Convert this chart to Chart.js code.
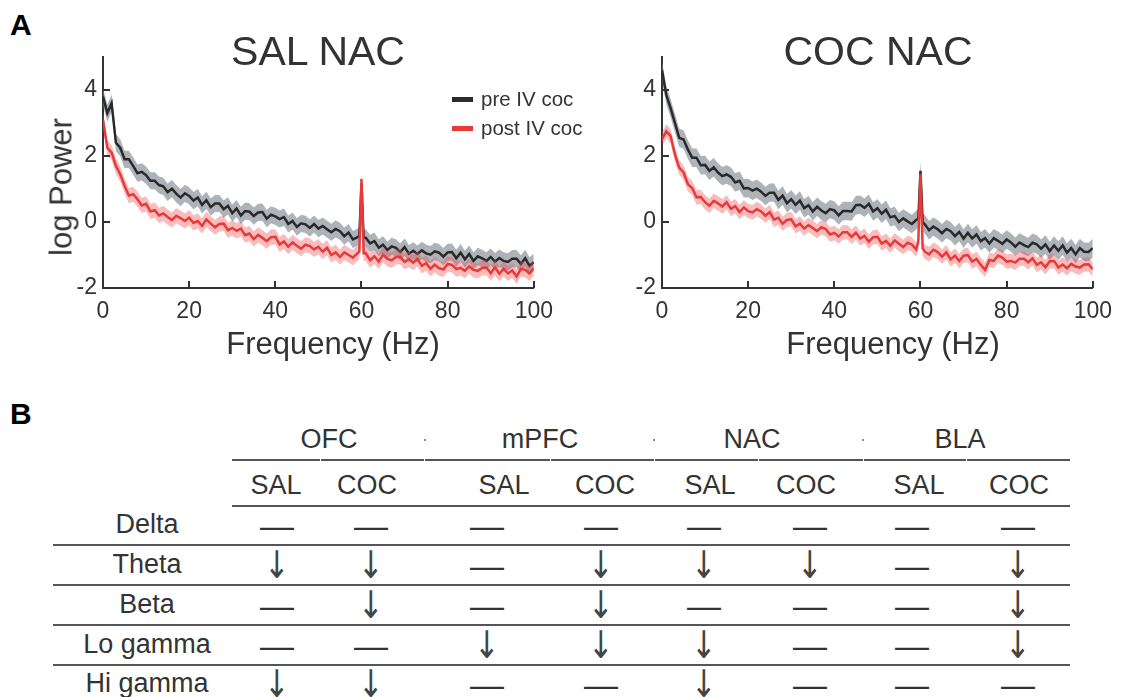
<!DOCTYPE html>
<html>
<head>
<meta charset="utf-8">
<script src="https://cdn.jsdelivr.net/npm/chart.js@4.4.0/dist/chart.umd.min.js"></script>
<style>
  body { margin: 0; background: #fff; }
  #fig { position: relative; width: 1130px; height: 697px; overflow: hidden;
         font-family: "Liberation Sans", Arial, sans-serif; color: #333; }
  .abs { position: absolute; white-space: nowrap; line-height: 1; }
  .c { transform: translate(-50%, -50%); }
  .panel { font-weight: bold; font-size: 30px; color: #000; }
  .ttl { font-size: 41px; }
  .axt { font-size: 31px; }
  .leg { font-size: 20.5px; transform: translateY(-50%); }
  .tbl { font-size: 27px; }
  .arrow { font-family: "DejaVu Sans", sans-serif; font-size: 38px; color: #444;
           transform: translate(-50%, -50%) scaleX(0.8); }
  .hl { position: absolute; height: 2px; background: #555; }
  canvas { position: absolute; }
</style>
</head>
<body>
<div id="fig">
  <div class="abs panel" style="left:10px;top:10px;">A</div>
  <div class="abs panel" style="left:10px;top:399px;">B</div>

  <canvas id="salChart" width="533" height="345" style="left:30px;top:20px;"></canvas>
  <canvas id="cocChart" width="533" height="345" style="left:589px;top:20px;"></canvas>

  <div class="abs c ttl" style="left:318px;top:51px;">SAL NAC</div>
  <div class="abs c ttl" style="left:878px;top:51px;">COC NAC</div>
  <div class="abs c axt" style="left:61px;top:187px;transform:translate(-50%,-50%) rotate(-90deg);">log Power</div>
  <div class="abs c axt" style="left:333px;top:343px;">Frequency (Hz)</div>
  <div class="abs c axt" style="left:893px;top:343px;">Frequency (Hz)</div>

  <div class="abs" style="left:452px;top:97px;width:21px;height:5px;background:#2b2b2b;"></div>
  <div class="abs leg" style="left:481px;top:99px;">pre IV coc</div>
  <div class="abs" style="left:452px;top:126px;width:21px;height:5px;background:#e8393b;"></div>
  <div class="abs leg" style="left:481px;top:128px;">post IV coc</div>
</div>

<script>
// frequency grid (Hz), finer around the 60 Hz line-noise peak
const freqs = [
  0, 1, 2, 3, 4, 5, 6, 7, 8, 9,
  10, 11, 12, 13, 14, 15, 16, 17, 18, 19,
  20, 21, 22, 23, 24, 25, 26, 27, 28, 29,
  30, 31, 32, 33, 34, 35, 36, 37, 38, 39,
  40, 41, 42, 43, 44, 45, 46, 47, 48, 49,
  50, 51, 52, 53, 54, 55, 56, 57, 58, 59,
  59.5, 60, 60.5,
  61, 62, 63, 64, 65, 66, 67, 68, 69, 70,
  71, 72, 73, 74, 75, 76, 77, 78, 79, 80,
  81, 82, 83, 84, 85, 86, 87, 88, 89, 90,
  91, 92, 93, 94, 95, 96, 97, 98, 99, 100
];

// SAL NAC, log power
const salPre = [
  3.8, 3.3, 3.6, 2.4, 2.25, 1.9, 1.9, 1.7, 1.48, 1.52,
  1.42, 1.25, 1.25, 1.12, 1.08, 0.9, 1.01, 0.86, 0.74, 0.87,
  0.79, 0.65, 0.74, 0.52, 0.66, 0.45, 0.56, 0.56, 0.39, 0.49,
  0.27, 0.41, 0.2, 0.33, 0.31, 0.18, 0.29, 0.3, 0.1, 0.22,
  0.17, 0.09, 0.15, -0.06, 0.03, -0.15, -0.04, -0.07, -0.18, -0.06,
  -0.2, -0.12, -0.22, -0.31, -0.21, -0.28, -0.43, -0.32, -0.53, -0.47,
  -0.42, 1.15, -0.48,
  -0.48, -0.65, -0.58, -0.78, -0.69, -0.85, -0.74, -0.78, -0.91, -0.76,
  -0.96, -0.87, -0.97, -0.86, -0.95, -0.99, -0.89, -0.93, -1.05, -0.92,
  -0.91, -1.1, -0.93, -1.13, -0.97, -1.18, -1.04, -1.1, -1.18, -1.06,
  -1.2, -1.09, -1.18, -1.21, -1.11, -1.11, -1.27, -1.1, -1.33, -1.22
];
const salPost = [
  3.1, 2.25, 2.1, 1.7, 1.45, 1.1, 0.8, 0.84, 0.69, 0.5,
  0.55, 0.32, 0.36, 0.2, 0.26, 0.15, 0.06, 0.19, 0.12, 0.03,
  0.13, -0.03, 0.03, -0.12, 0.08, -0.05, -0.16, -0.06, -0.05, -0.25,
  -0.18, -0.27, -0.2, -0.4, -0.35, -0.52, -0.39, -0.48, -0.58, -0.46,
  -0.45, -0.68, -0.59, -0.75, -0.62, -0.72, -0.81, -0.69, -0.73, -0.83,
  -0.75, -0.9, -0.78, -1.0, -0.92, -1.06, -0.92, -1.0, -1.08, -0.96,
  -0.9, 1.3, -0.95,
  -0.95, -1.16, -1.04, -1.2, -0.99, -1.12, -1.16, -1.06, -1.05, -1.21,
  -1.13, -1.23, -1.12, -1.33, -1.25, -1.42, -1.29, -1.4, -1.44, -1.27,
  -1.3, -1.43, -1.39, -1.48, -1.34, -1.45, -1.48, -1.39, -1.38, -1.55,
  -1.38, -1.57, -1.42, -1.56, -1.47, -1.65, -1.42, -1.45, -1.56, -1.4
];

// COC NAC, log power
const cocPre = [
  4.6, 3.85, 3.45, 3.0, 2.55, 2.5, 2.2, 1.95, 1.95, 1.72,
  1.73, 1.55, 1.66, 1.5, 1.39, 1.44, 1.37, 1.2, 1.25, 1.02,
  1.03, 0.95, 1.01, 0.92, 0.79, 0.89, 0.89, 0.67, 0.8, 0.57,
  0.69, 0.52, 0.65, 0.42, 0.51, 0.32, 0.46, 0.35, 0.27, 0.39,
  0.35, 0.2, 0.33, 0.33, 0.32, 0.51, 0.52, 0.43, 0.55, 0.32,
  0.42, 0.25, 0.37, 0.14, 0.18, 0.0, 0.11, 0.02, -0.06, 0.06,
  0.1, 1.55, 0.0,
  -0.07, -0.25, -0.14, -0.22, -0.34, -0.21, -0.28, -0.43, -0.3, -0.5,
  -0.33, -0.5, -0.38, -0.58, -0.49, -0.65, -0.49, -0.57, -0.66, -0.53,
  -0.62, -0.75, -0.62, -0.7, -0.76, -0.63, -0.68, -0.81, -0.68, -0.88,
  -0.71, -0.87, -0.71, -0.93, -0.79, -0.98, -0.79, -0.9, -0.91, -0.79
];
const cocPost = [
  2.5, 2.75, 2.6, 2.05, 1.65, 1.5, 1.15, 1.03, 0.75, 0.76,
  0.6, 0.49, 0.64, 0.57, 0.47, 0.6, 0.4, 0.48, 0.3, 0.44,
  0.33, 0.29, 0.39, 0.32, 0.19, 0.3, 0.07, 0.13, -0.05, 0.06,
  0.08, -0.13, -0.05, -0.2, -0.09, -0.18, -0.28, -0.16, -0.21, -0.38,
  -0.33, -0.44, -0.31, -0.31, -0.45, -0.32, -0.5, -0.42, -0.6, -0.46,
  -0.45, -0.65, -0.57, -0.72, -0.56, -0.66, -0.76, -0.63, -0.68, -0.83,
  -0.6, 1.45, -0.8,
  -0.9, -0.98, -0.84, -0.91, -1.05, -0.92, -1.13, -1.02, -1.18, -1.02,
  -1.0, -1.2, -1.12, -1.3, -1.45, -1.15, -1.18, -1.02, -1.08, -1.2,
  -1.18, -1.23, -1.11, -1.11, -1.22, -1.1, -1.3, -1.22, -1.37, -1.19,
  -1.18, -1.38, -1.29, -1.4, -1.27, -1.35, -1.38, -1.29, -1.28, -1.43
];

// s.e.m. half widths of the shaded bands
const salPreSem = 0.26;
const salPostSem = 0.23;
const cocPreSem = 0.28;
const cocPostSem = 0.22;

const xTicks = [0, 20, 40, 60, 80, 100];
const yTicks = [-2, 0, 2, 4];

// table B
const regionNames = ["OFC", "mPFC", "NAC", "BLA"];
const groupNames = ["SAL", "COC"];
const bandNames = ["Delta", "Theta", "Beta", "Lo gamma", "Hi gamma"];
// d = decrease, n = no change (columns: OFC SAL/COC, mPFC SAL/COC, NAC SAL/COC, BLA SAL/COC)
const bandChanges = [
  ["n", "n", "n", "n", "n", "n", "n", "n"],
  ["d", "d", "n", "d", "d", "d", "n", "d"],
  ["n", "d", "n", "d", "n", "n", "n", "d"],
  ["n", "n", "d", "d", "d", "n", "n", "d"],
  ["d", "d", "n", "n", "d", "n", "n", "n"]
];

const FONT = "'Liberation Sans', Arial, sans-serif";
const INK = "#333";

const inwardTicks = {
  id: "inwardTicks",
  afterDraw(chart) {
    const { ctx, chartArea, scales } = chart;
    ctx.save();
    ctx.strokeStyle = INK;
    ctx.lineWidth = 2;
    ctx.beginPath();
    xTicks.slice(1).forEach(v => {
      const px = Math.round(scales.x.getPixelForValue(v));
      ctx.moveTo(px, chartArea.bottom);
      ctx.lineTo(px, chartArea.bottom - 7);
    });
    yTicks.slice(1).forEach(v => {
      const py = Math.round(scales.y.getPixelForValue(v));
      ctx.moveTo(chartArea.left, py);
      ctx.lineTo(chartArea.left + 7, py);
    });
    ctx.stroke();
    ctx.restore();
  }
};

function series(values, offset) {
  return freqs.map((f, i) => ({ x: f, y: values[i] + offset }));
}

function makeChart(id, pre, post, preSem, postSem) {
  const ctx = document.getElementById(id).getContext("2d");
  return new Chart(ctx, {
    type: "line",
    data: {
      datasets: [
        // gray band (pre)
        { data: series(pre, preSem), borderWidth: 0, pointRadius: 0, fill: false, order: 3 },
        { data: series(pre, -preSem), borderWidth: 0, pointRadius: 0,
          fill: "-1", backgroundColor: "rgba(125,132,144,0.62)", order: 3 },
        // black mean
        { data: series(pre, 0), borderColor: "#2a2a2a", borderWidth: 2.5, pointRadius: 0, fill: false, order: 2 },
        // pink band (post)
        { data: series(post, postSem), borderWidth: 0, pointRadius: 0, fill: false, order: 1 },
        { data: series(post, -postSem), borderWidth: 0, pointRadius: 0,
          fill: "-1", backgroundColor: "rgba(236,80,80,0.38)", order: 1 },
        // red mean
        { data: series(post, 0), borderColor: "#e8393b", borderWidth: 2.5, pointRadius: 0, fill: false, order: 0 }
      ]
    },
    options: {
      responsive: false,
      animation: false,
      devicePixelRatio: 1,
      layout: { padding: { top: 37, right: 20, left: 0, bottom: 0 } },
      elements: { line: { tension: 0 } },
      plugins: { legend: { display: false }, tooltip: { enabled: false } },
      scales: {
        x: {
          type: "linear", min: 0, max: 100,
          afterBuildTicks: s => { s.ticks = xTicks.map(v => ({ value: v })); },
          afterFit: s => { s.height = 77; },
          grid: { display: false, drawTicks: false },
          border: { display: true, color: INK, width: 2 },
          ticks: { color: INK, font: { family: FONT, size: 23 }, padding: 10, maxRotation: 0 }
        },
        y: {
          min: -2, max: 5,
          afterBuildTicks: s => { s.ticks = yTicks.map(v => ({ value: v })); },
          afterFit: s => { s.width = 73; },
          grid: { display: false, drawTicks: false },
          border: { display: true, color: INK, width: 2 },
          ticks: { color: INK, font: { family: FONT, size: 23 }, padding: 6 }
        }
      }
    },
    plugins: [inwardTicks]
  });
}

makeChart("salChart", salPre, salPost, salPreSem, salPostSem);
makeChart("cocChart", cocPre, cocPost, cocPreSem, cocPostSem);

// ---- table B ----
const fig = document.getElementById("fig");
function addText(txt, x, y, cls) {
  const d = document.createElement("div");
  d.className = "abs c " + cls;
  d.style.left = x + "px";
  d.style.top = y + "px";
  d.textContent = txt;
  fig.appendChild(d);
  return d;
}
function addLine(x1, x2, y) {
  const d = document.createElement("div");
  d.className = "hl";
  d.style.left = x1 + "px";
  d.style.width = (x2 - x1) + "px";
  d.style.top = (y - 1) + "px";
  fig.appendChild(d);
}

const regionX = [329, 540, 752, 960];
const groupX = [276, 367, 504, 605, 710, 806, 919, 1019];
const markX = [277, 371, 487, 601, 704, 810, 912, 1018];
const rowY = [524, 564, 604, 644, 683];
const segEdges = [232, 320, 424, 550, 654, 758, 863, 966, 1070];

regionNames.forEach((r, i) => addText(r, regionX[i], 439, "tbl"));
[424, 653, 862].forEach(x => {
  const d = document.createElement("div");
  d.className = "abs";
  Object.assign(d.style, { left: x + "px", top: "439px", width: "2px", height: "2px", background: "#888" });
  fig.appendChild(d);
});
for (let i = 0; i < segEdges.length - 1; i++) addLine(segEdges[i] + (i ? 1 : 0), segEdges[i + 1], 460);
regionNames.forEach((r, i) => groupNames.forEach((g, j) => addText(g, groupX[i * 2 + j], 485, "tbl")));
addLine(232, 1070, 506);

bandNames.forEach((b, r) => {
  addText(b, 147, rowY[r], "tbl");
  bandChanges[r].forEach((v, c) => {
    if (v === "d") addText("\u2193", markX[c], rowY[r] + 1, "arrow");
    else addText("\u2014", markX[c], rowY[r] + 1, "tbl").style.fontSize = "34px";
  });
  if (r < bandNames.length - 1) addLine(53, 1070, rowY[r] + 21);
});
</script>
</body>
</html>
